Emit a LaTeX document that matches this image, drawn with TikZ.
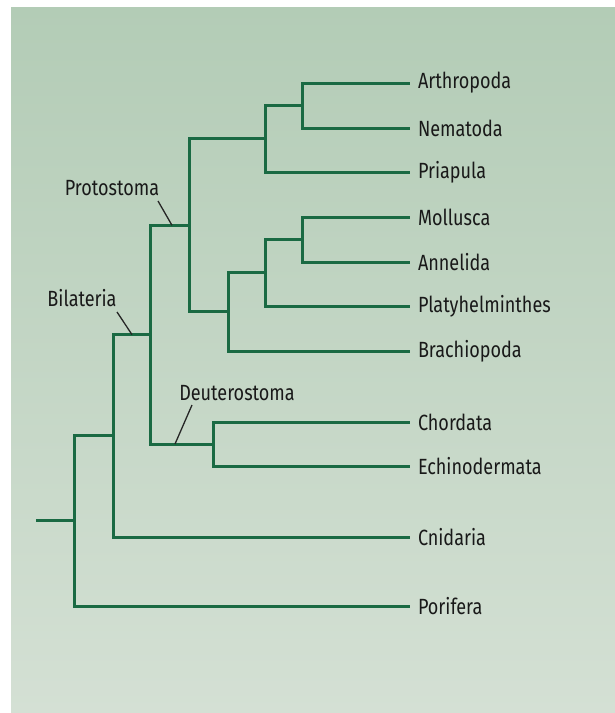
\documentclass[tikz,border=0pt]{standalone}
\usepackage{fontspec}
\setmainfont{Fira Sans}[FakeStretch=0.82]
\begin{document}
\begin{tikzpicture}[x=1pt,y=-1pt,
  br/.style={draw=brgreen,line width=3pt,line cap=rect},
  tick/.style={draw=black!85,line width=1.3pt},
  leaf/.style={anchor=west,inner xsep=10pt,inner ysep=0pt,outer sep=0pt,font=\fontsize{22}{24}\selectfont,text=black!90},
  clade/.style={inner sep=0pt,font=\fontsize{22}{24}\selectfont,text=black!90}]
\definecolor{brgreen}{HTML}{1A6A43}
\definecolor{bgtop}{HTML}{B3CCB6}
\definecolor{bgbot}{HTML}{D4E0D4}
\useasboundingbox (0,0) rectangle (615,713);
\fill[white] (0,0) rectangle (615,713);
\shade[top color=bgtop,bottom color=bgbot] (11,7) rectangle (615,713);
% leaves
\node[leaf] (art) at (408,83) {Arthropoda};
\node[leaf] (nem) at (408,128) {Nematoda};
\node[leaf] (pri) at (408,172) {Priapula};
\node[leaf] (mol) at (408,217) {Mollusca};
\node[leaf] (ann) at (408,262) {Annelida};
\node[leaf] (pla) at (408,306) {Platyhelminthes};
\node[leaf] (bra) at (408,351) {Brachiopoda};
\node[leaf] (cho) at (408,422) {Chordata};
\node[leaf] (ech) at (408,466) {Echinodermata};
\node[leaf] (cni) at (408,537) {Cnidaria};
\node[leaf] (por) at (408,606) {Porifera};
% internal nodes
\coordinate (A) at (302,105.5);
\coordinate (B) at (265,138.75);
\coordinate (C) at (302,239.5);
\coordinate (D) at (265,272.75);
\coordinate (E) at (228,311.9);
\coordinate (F) at (189,225.3);
\coordinate (G) at (213,444);
\coordinate (H) at (150,334.6);
\coordinate (I) at (113,435.8);
\coordinate (J) at (74,520.9);
\coordinate (R) at (37,520.9);
% branches
\draw[br] (A) |- (art.west);
\draw[br] (A) |- (nem.west);
\draw[br] (B) |- (A);
\draw[br] (B) |- (pri.west);
\draw[br] (C) |- (mol.west);
\draw[br] (C) |- (ann.west);
\draw[br] (D) |- (C);
\draw[br] (D) |- (pla.west);
\draw[br] (E) |- (D);
\draw[br] (E) |- (bra.west);
\draw[br] (F) |- (B);
\draw[br] (F) |- (E);
\draw[br] (G) |- (cho.west);
\draw[br] (G) |- (ech.west);
\draw[br] (H) |- (F);
\draw[br] (H) |- (G);
\draw[br] (I) |- (H);
\draw[br] (I) |- (cni.west);
\draw[br] (J) |- (I);
\draw[br] (J) |- (por.west);
\draw[br] (R) -- (J);
% clade labels
\node[clade] (pro) at (112,188) {Protostoma};
\node[clade] (bil) at (82,298) {Bilateria};
\node[clade] (deu) at (237,393) {Deuterostoma};
\coordinate (proA) at (158,201);
\coordinate (proB) at (172,225.3);
\coordinate (bilA) at (117,312);
\coordinate (bilB) at (132,334.6);
\coordinate (deuA) at (192,405);
\coordinate (deuB) at (175,444);
\draw[tick] (proA) -- (proB);
\draw[tick] (bilA) -- (bilB);
\draw[tick] (deuA) -- (deuB);
\end{tikzpicture}
\end{document}
